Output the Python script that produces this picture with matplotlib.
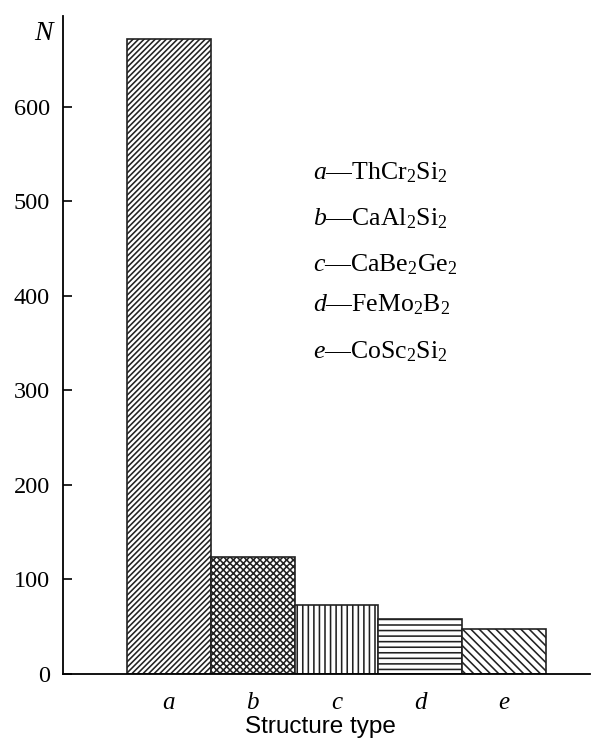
import matplotlib
matplotlib.use("Agg")
import matplotlib.pyplot as plt

categories = ["a", "b", "c", "d", "e"]
counts = [672, 124, 73, 58, 48]
hatches = ["//////", "xxxxx", "|||", "---", "\\\\\\\\"]
legend_names = ["ThCr$_2$Si$_2$", "CaAl$_2$Si$_2$", "CaBe$_2$Ge$_2$", "FeMo$_2$B$_2$", "CoSc$_2$Si$_2$"]
yticks = [0, 100, 200, 300, 400, 500, 600]

plt.rcParams['hatch.linewidth'] = 1.15
plt.rcParams['mathtext.fontset'] = 'custom'
plt.rcParams['mathtext.rm'] = 'Liberation Serif'
plt.rcParams['mathtext.it'] = 'Liberation Serif:italic'

W, H = 594, 738
fig = plt.figure(figsize=(W/100, H/100), dpi=100)
left, right, top, bottom = 63, 590, 16, 674
ax = fig.add_axes([left/W, 1-bottom/H, (right-left)/W, (bottom-top)/H])

x = list(range(len(categories)))
ax.bar(x, counts, width=1.0, color="white", edgecolor="#222222", linewidth=1.2,
       hatch=hatches, zorder=2)

ax.set_xlim(-1.264, 5.025)
ax.set_ylim(0, 696)
ax.spines['top'].set_visible(False)
ax.spines['right'].set_visible(False)
ax.spines['left'].set_linewidth(1.3)
ax.spines['bottom'].set_linewidth(1.3)

ax.set_yticks(yticks)
ax.set_yticklabels([str(v) for v in yticks], fontfamily="Liberation Serif", fontsize=17.5)
ax.tick_params(axis='y', direction='in', length=6.5, width=1.2, pad=9.5)
ax.set_xticks(x)
ax.set_xticklabels(categories, fontfamily="Liberation Serif", fontstyle="italic", fontsize=18)
ax.tick_params(axis='x', length=0, pad=13)

fig.text(43/W, 1-34/H, "N", fontfamily="Liberation Serif", fontstyle="italic",
         fontsize=20, ha="center", va="center")
fig.text(320/W, 1-727/H, "Structure type", fontfamily="Liberation Sans",
         fontsize=17.5, ha="center", va="center")

ys = [173, 219, 265, 305, 352]
for cat, name, yy in zip(categories, legend_names, ys):
    fig.text(313/W, 1-yy/H, f"${cat}$\u2014" + name, fontfamily="Liberation Serif",
             fontsize=18.5, ha="left", va="center")

fig.savefig("out.png", dpi=100)
